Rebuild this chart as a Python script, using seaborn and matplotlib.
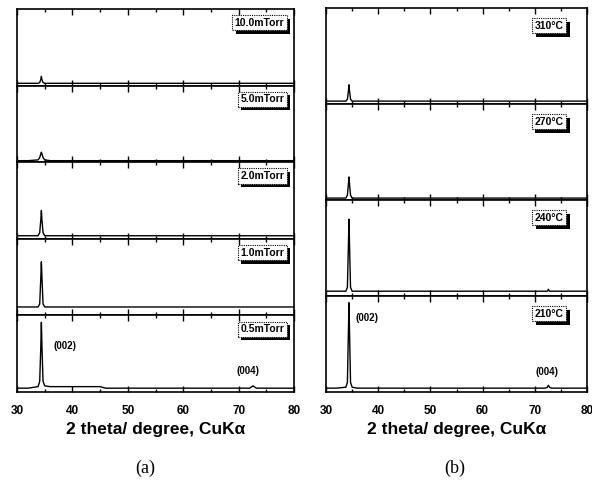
import matplotlib
matplotlib.use("Agg")
import matplotlib.pyplot as plt
import matplotlib.patheffects as pe
import seaborn as sns
import pandas as pd

sns.set_theme(style="white")
plt.rcParams['font.family'] = ['Liberation Sans', 'DejaVu Sans']
plt.rcParams['text.color'] = 'black'
plt.rcParams['axes.labelcolor'] = 'black'
plt.rcParams['xtick.color'] = 'black'

# sampled 2-theta positions (degrees)
two_theta = [30, 32.0, 33.8, 34.1, 34.3, 34.4, 34.5, 34.7, 35.0, 36.0, 45.0, 46.0,
             72.0, 72.4, 72.6, 72.8, 73.2, 80]

# panel (a): sputtering pressure series (relative intensity, 0-100 per panel)
pressure_labels = ["10.0mTorr", "5.0mTorr", "2.0mTorr", "1.0mTorr", "0.5mTorr"]
int_10_0 = [3, 3, 3, 4, 8, 12, 8, 4, 3, 3, 3, 3, 3, 3, 3, 3, 3, 3]
int_5_0 = [2, 2, 3, 6, 11, 13, 11, 6, 3, 2, 2, 2, 2, 2, 2, 2, 2, 2]
int_2_0 = [4, 4, 4, 8, 25, 37, 25, 8, 4, 4, 4, 4, 4, 4, 4, 4, 4, 4]
int_1_0 = [11, 11, 11, 15, 50, 70, 50, 15, 11, 11, 11, 11, 11, 11, 11, 11, 11, 11]
int_0_5 = [5, 5, 7, 14, 60, 91, 60, 14, 8, 7, 7, 5, 5, 7, 8, 7, 5, 5]
series_a = [int_10_0, int_5_0, int_2_0, int_1_0, int_0_5]

# panel (b): substrate temperature series
temp_labels = ["310°C", "270°C", "240°C", "210°C"]
int_310 = [3, 3, 3, 5, 14, 20, 14, 5, 3, 3, 3, 3, 3, 3, 3, 3, 3, 3]
int_270 = [2, 2, 2, 5, 17, 24, 17, 5, 2, 2, 2, 2, 2, 2, 2, 2, 2, 2]
int_240 = [5, 5, 5, 9, 55, 80, 55, 9, 5, 5, 5, 5, 5, 5, 7, 5, 5, 5]
int_210 = [4, 4, 5, 10, 65, 93, 65, 10, 5, 4, 4, 4, 4, 5, 7, 5, 4, 4]
series_b = [int_310, int_270, int_240, int_210]

fig = plt.figure(figsize=(5.92, 4.84), dpi=100)
fig.patch.set_facecolor("white")

gs_a = fig.add_gridspec(5, 1, left=17/592, right=294/592, top=1-9/484, bottom=1-392/484, hspace=0)
gs_b = fig.add_gridspec(4, 1, left=326/592, right=587/592, top=1-8/484, bottom=1-392/484, hspace=0)


def style_ax(ax, bottom):
    ax.set_xlim(30, 80)
    ax.set_ylim(0, 100)
    ax.set_yticks([])
    ax.set_xticks([30, 40, 50, 60, 70, 80])
    ax.set_xticks([35, 45, 55, 65, 75], minor=True)
    ax.tick_params(axis='x', which='major', direction='in', top=True, bottom=True,
                   length=4, width=1, color='black', labelsize=8.5, pad=9,
                   labelcolor='black')
    ax.tick_params(axis='x', which='minor', direction='in', top=True, bottom=True,
                   length=2, width=1, color='black')
    for s in ax.spines.values():
        s.set_color('black')
        s.set_linewidth(1.2)
    ax.set_facecolor('white')
    ax.set_xlabel("")
    ax.set_ylabel("")
    if not bottom:
        ax.tick_params(axis='x', labelbottom=False)
    else:
        for lab in ax.get_xticklabels():
            lab.set_fontweight('bold')


def add_label(ax, text, xfrac, yfrac):
    t = ax.text(xfrac, yfrac, text, transform=ax.transAxes, ha='right', va='center',
                fontsize=7.5, fontweight='bold', color='black',
                bbox=dict(boxstyle='square,pad=0.25', fc='white', ec='black',
                          ls=(0, (1, 1)), lw=0.8))
    t.get_bbox_patch().set_path_effects([
        pe.SimplePatchShadow(offset=(2.5, -2.5), shadow_rgbFace='black', alpha=1.0),
        pe.Normal()])
    return t


axes_a = []
for i, (lab, vals) in enumerate(zip(pressure_labels, series_a)):
    ax = fig.add_subplot(gs_a[i, 0])
    df = pd.DataFrame({"two_theta": two_theta, "intensity": vals})
    sns.lineplot(data=df, x="two_theta", y="intensity", ax=ax, color='black', lw=1.0)
    style_ax(ax, i == len(series_a) - 1)
    add_label(ax, lab, 0.965, 0.82)
    axes_a.append(ax)

axes_b = []
for i, (lab, vals) in enumerate(zip(temp_labels, series_b)):
    ax = fig.add_subplot(gs_b[i, 0])
    df = pd.DataFrame({"two_theta": two_theta, "intensity": vals})
    sns.lineplot(data=df, x="two_theta", y="intensity", ax=ax, color='black', lw=1.0)
    style_ax(ax, i == len(series_b) - 1)
    add_label(ax, lab, 0.91, 0.815)
    axes_b.append(ax)

# peak annotations
axes_a[-1].text(36.5, 60, "(002)", fontsize=7, fontweight='bold', ha='left', va='center')
axes_a[-1].text(71.7, 27, "(004)", fontsize=7, fontweight='bold', ha='center', va='center')
axes_b[-1].text(35.6, 77, "(002)", fontsize=7, fontweight='bold', ha='left', va='center')
axes_b[-1].text(72.3, 21, "(004)", fontsize=7, fontweight='bold', ha='center', va='center')

axes_a[-1].set_xlabel("2 theta/ degree, CuK\u03b1", fontsize=12.5, fontweight='bold',
                      labelpad=4, color='black')
axes_b[-1].set_xlabel("2 theta/ degree, CuK\u03b1", fontsize=12.5, fontweight='bold',
                      labelpad=4, color='black')

fig.text(145/592, 1-468/484, "(a)", ha='center', va='center', fontsize=13,
         family=['Liberation Serif', 'DejaVu Serif'])
fig.text(455/592, 1-468/484, "(b)", ha='center', va='center', fontsize=13,
         family=['Liberation Serif', 'DejaVu Serif'])

fig.savefig("out.png", dpi=100, facecolor='white')
